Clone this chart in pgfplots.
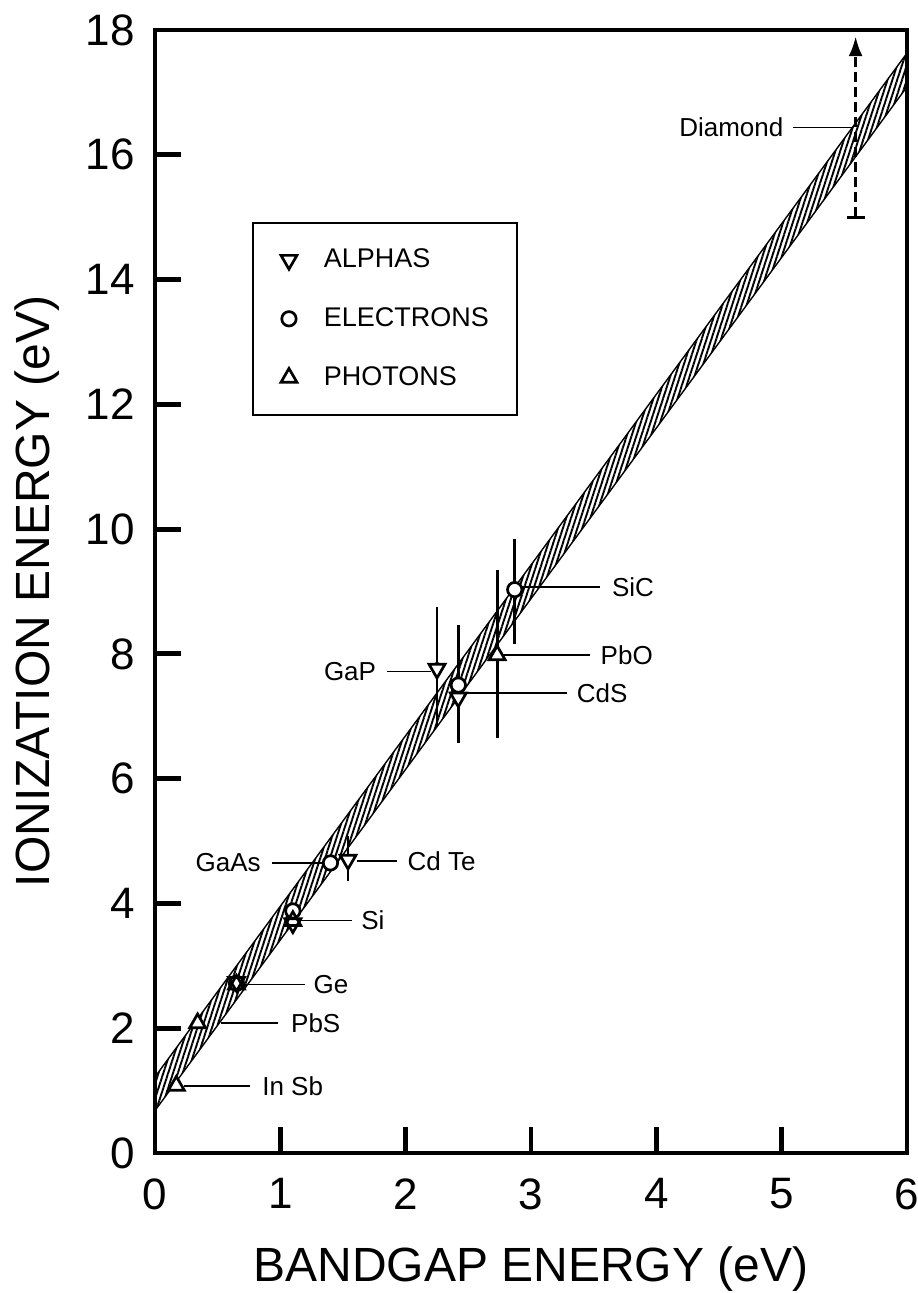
\documentclass[border=0pt]{standalone}
\usepackage{fontspec}
\setmainfont{Liberation Sans}
\usepackage{pgfplots}
\pgfplotsset{compat=1.18}
\usetikzlibrary{patterns.meta, arrows.meta}

\newcommand\lbl{\fontsize{13}{15}\selectfont}

\pgfplotsset{
  markfill/.style={only marks, forget plot, mark size=#1},
  alphas/.style={only marks, mark=triangle, mark size=4.6pt,
    mark options={rotate=180, fill=none, draw=black, line width=1.35pt}},
  electrons/.style={only marks, mark=o, mark size=3.6pt,
    mark options={fill=none, draw=black, line width=1.35pt}},
  photons/.style={only marks, mark=triangle, mark size=4.6pt,
    mark options={fill=none, draw=black, line width=1.35pt}},
  leader/.style={forget plot, line width=0.75pt, black, mark=none},
}

\begin{document}
\begin{tikzpicture}
\useasboundingbox (-77.5pt,-70pt) rectangle (381pt,576.5pt);
\begin{axis}[
  at={(0,0)}, anchor=south west,
  scale only axis, width=376pt, height=561.5pt,
  xmin=0, xmax=6, ymin=0, ymax=18,
  xtick={0,1,...,6}, ytick={0,2,...,18},
  tick pos=left, tick align=inside,
  major tick length=13pt,
  axis line style={line width=2.4pt, black},
  major tick style={line width=2.4pt, black},
  axis on top, clip=false,
  /pgf/number format/assume math mode=true,
  tick label style={font=\fontsize{22}{26}\selectfont, inner sep=0pt},
  xticklabel style={yshift=-12.5pt},
  yticklabel style={xshift=-10pt},
  xlabel={BANDGAP ENERGY (eV)},
  ylabel={IONIZATION ENERGY (eV)},
  label style={font=\fontsize{24}{28}\selectfont, inner sep=0pt},
  xlabel style={at={(axis description cs:0.5,-0.0828)}, anchor=north},
  ylabel style={at={(axis description cs:-0.1263,0.5)}, anchor=south},
  legend style={at={(axis description cs:0.129,0.829)}, anchor=north west,
    draw=black, line width=1pt, font=\fontsize{13.5}{16}\selectfont,
    inner xsep=14pt, inner ysep=13pt, row sep=18.5pt, column sep=13.5pt,
    nodes={inner sep=0pt}},
  legend cell align=left,
  legend image code/.code={\draw[#1] plot coordinates {(0pt,0pt)};},
]

% empirical band: E_i = 2.735 E_g + (0.68 ... 1.22)
\addplot[forget plot, draw=black, line width=0.7pt,
  pattern={Lines[angle=72, distance=2.3pt, line width=0.95pt]}]
  coordinates {(0,0.68) (6,17.09) (6,17.63) (0,1.22)} -- cycle;

% error bars
\addplot[forget plot, only marks, mark=none, black,
  error bars/.cd, y dir=both, y explicit,
  error bar style={line width=1.4pt, black},
  error mark options={line width=1.4pt, mark size=4.5pt, black}]
  coordinates {
    (2.25,7.80) +- (0,0.80)
    (2.42,7.52) +- (0,0.80)
    (2.73,8.00) +- (0,1.20)
    (2.87,9.00) +- (0,0.70)
    (1.54,4.72) +- (0,0.22)
  };

% diamond: lower limit only
\addplot[forget plot, line width=1.5pt, dash pattern=on 5pt off 2.5pt,
  -{Latex[length=10pt, width=7pt]}] coordinates {(5.59,15) (5.59,17.9)};
\addplot[forget plot, only marks, mark=-, mark size=4.5pt,
  mark options={line width=1.5pt}] coordinates {(5.59,15)};

% leader lines
\addplot[leader] coordinates {(0.23,1.07) (0.76,1.07)};
\addplot[leader] coordinates {(0.53,2.08) (0.98,2.08)};
\addplot[leader] coordinates {(0.73,2.70) (1.20,2.70)};
\addplot[leader] coordinates {(1.16,3.73) (1.57,3.73)};
\addplot[leader] coordinates {(0.93,4.65) (1.33,4.65)};
\addplot[leader] coordinates {(1.61,4.68) (1.93,4.68)};
\addplot[leader] coordinates {(1.85,7.72) (2.20,7.72)};
\addplot[leader] coordinates {(2.46,7.37) (3.29,7.37)};
\addplot[leader] coordinates {(2.77,7.98) (3.47,7.98)};
\addplot[leader] coordinates {(2.93,9.07) (3.55,9.07)};
\addplot[leader] coordinates {(5.09,16.44) (5.56,16.44)};

% white mark backgrounds
\addplot[markfill=4.6pt, mark=triangle*,
  mark options={rotate=180, fill=white, draw=white, line width=0pt}]
  coordinates {(0.65,2.74) (1.10,3.68) (1.54,4.70) (2.25,7.76) (2.42,7.30)};
\addplot[markfill=4.6pt, mark=triangle*,
  mark options={fill=white, draw=white, line width=0pt}]
  coordinates {(0.17,1.08) (0.34,2.08) (0.65,2.70) (1.10,3.72) (2.73,7.98)};
\addplot[markfill=3.6pt, mark=*,
  mark options={fill=white, draw=white, line width=0pt}]
  coordinates {(0.65,2.72) (1.10,3.88) (1.40,4.65) (2.42,7.50) (2.87,9.03)};

% measured points
\addplot[alphas]
  coordinates {(0.65,2.74) (1.10,3.68) (1.54,4.70) (2.25,7.76) (2.42,7.30)};
\addlegendentry{ALPHAS}
\addplot[electrons]
  coordinates {(0.65,2.72) (1.10,3.88) (1.40,4.65) (2.42,7.50) (2.87,9.03)};
\addlegendentry{ELECTRONS}
\addplot[photons]
  coordinates {(0.17,1.08) (0.34,2.08) (0.65,2.70) (1.10,3.72) (2.73,7.98)};
\addlegendentry{PHOTONS}

% material labels
\node[anchor=west] at (axis cs:0.80,1.07) {\lbl In Sb};
\node[anchor=west] at (axis cs:1.03,2.08) {\lbl PbS};
\node[anchor=west] at (axis cs:1.21,2.70) {\lbl Ge};
\node[anchor=west] at (axis cs:1.59,3.73) {\lbl Si};
\node[anchor=east] at (axis cs:0.90,4.65) {\lbl GaAs};
\node[anchor=west] at (axis cs:1.96,4.68) {\lbl Cd Te};
\node[anchor=east] at (axis cs:1.82,7.72) {\lbl GaP};
\node[anchor=west] at (axis cs:3.31,7.37) {\lbl CdS};
\node[anchor=west] at (axis cs:3.50,7.98) {\lbl PbO};
\node[anchor=west] at (axis cs:3.59,9.07) {\lbl SiC};
\node[anchor=east] at (axis cs:5.07,16.44) {\lbl Diamond};
\end{axis}
\end{tikzpicture}
\end{document}
